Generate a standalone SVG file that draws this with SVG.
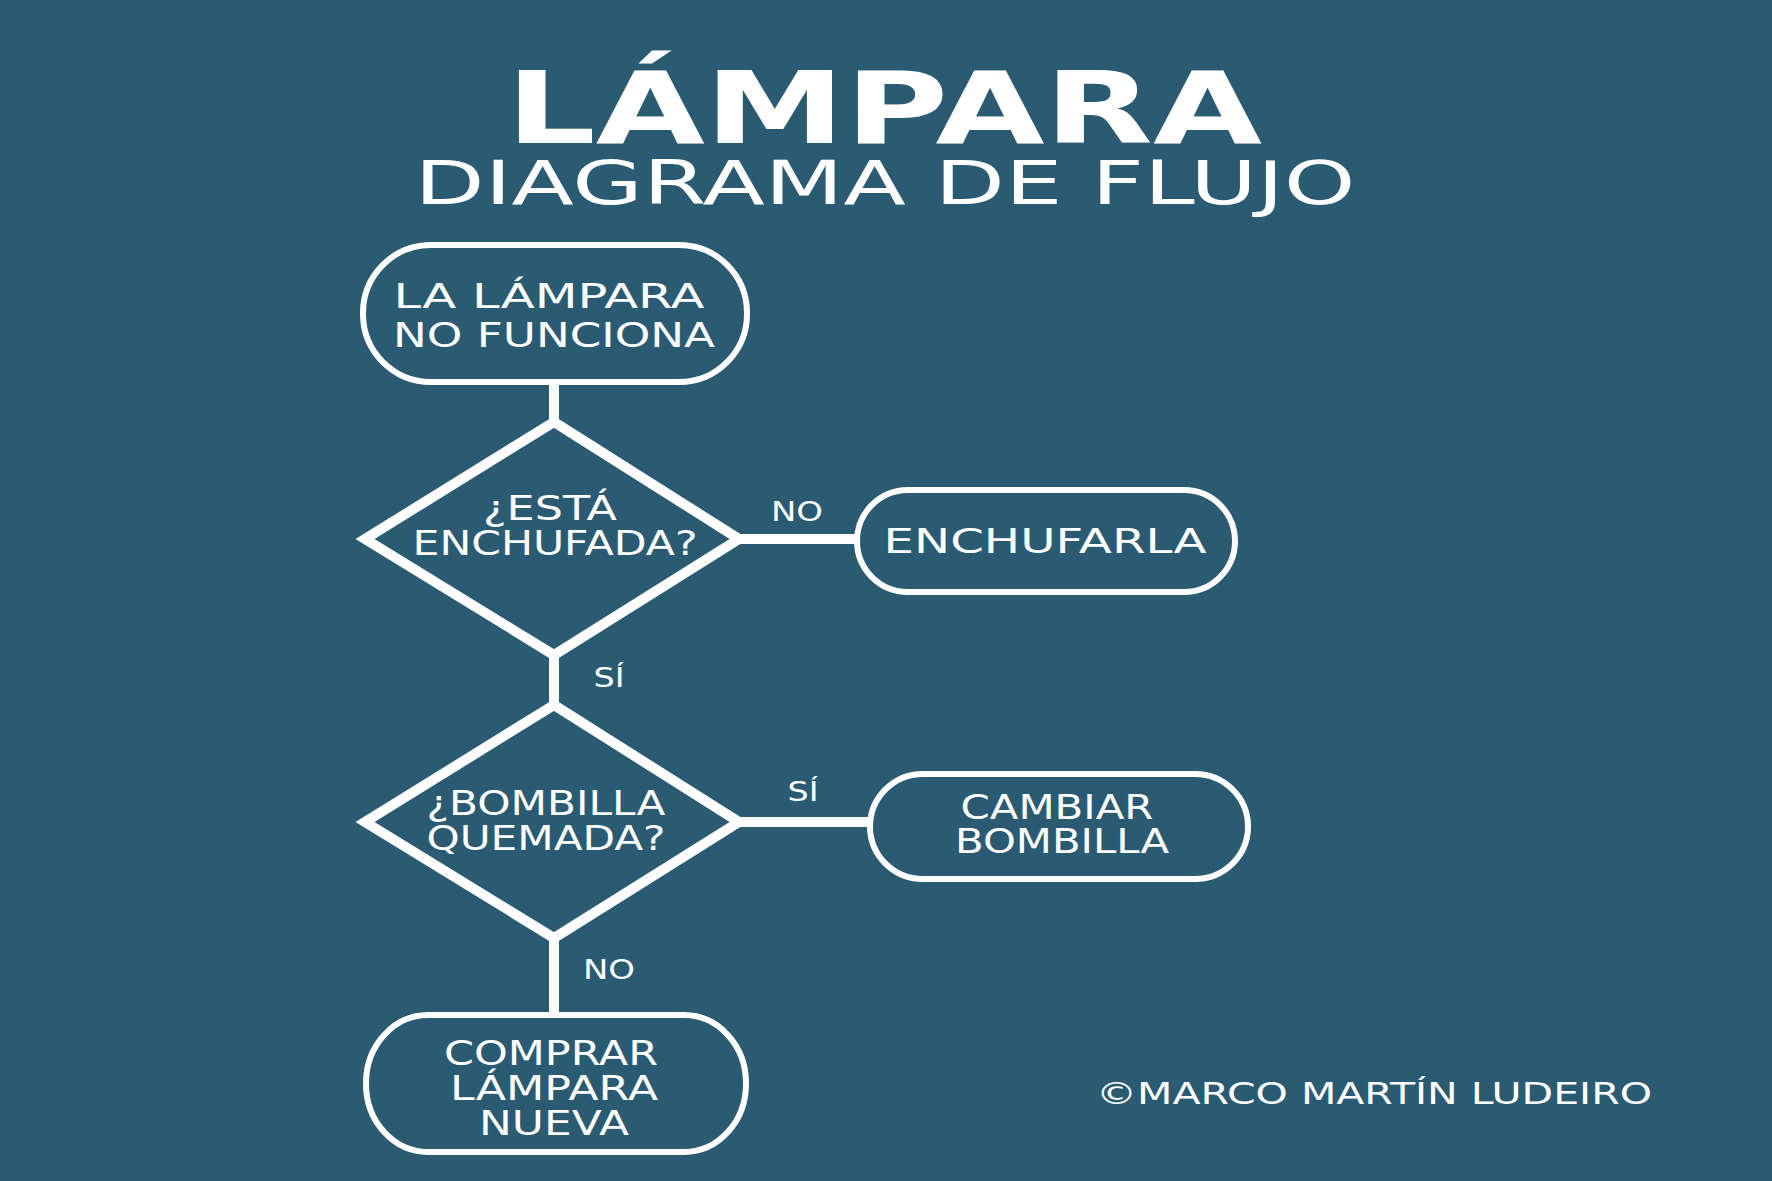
<svg xmlns="http://www.w3.org/2000/svg" width="1772" height="1181" viewBox="0 0 1772 1181">
<style>
text{font-family:"DejaVu Sans","Liberation Sans",sans-serif;fill:#fff;text-anchor:middle}
.node{fill:none;stroke:#fff;stroke-width:6}
.dia{fill:none;stroke:#fff;stroke-width:10;stroke-linejoin:miter}
.conn{stroke:#fff;stroke-width:10;fill:none}
.t{font-size:33px}
.lbl{font-size:27px}
</style>
<rect width="1772" height="1181" fill="#2A5B73"/>
<g id="title">
<text x="884" y="143" font-size="100" font-weight="bold" textLength="756" lengthAdjust="spacingAndGlyphs">LÁMPARA</text>
<text x="885" y="204" font-size="60" textLength="941" lengthAdjust="spacingAndGlyphs">DIAGRAMA DE FLUJO</text>
</g>
<g id="connectors">
<line class="conn" x1="554" y1="382" x2="554" y2="422"/>
<line class="conn" x1="741" y1="539" x2="858" y2="539"/>
<line class="conn" x1="554" y1="653" x2="554" y2="705"/>
<line class="conn" x1="741" y1="822" x2="870" y2="822"/>
<line class="conn" x1="554" y1="936" x2="554" y2="1016"/>
<text class="lbl" x="797" y="521" textLength="52" lengthAdjust="spacingAndGlyphs">NO</text>
<text class="lbl" x="609" y="687" textLength="31" lengthAdjust="spacingAndGlyphs">SÍ</text>
<text class="lbl" x="803" y="801" textLength="31" lengthAdjust="spacingAndGlyphs">SÍ</text>
<text class="lbl" x="609" y="979" textLength="52" lengthAdjust="spacingAndGlyphs">NO</text>
</g>
<g id="start">
<rect class="node" x="363" y="245" width="384" height="137" rx="68" ry="68"/>
<text class="t" x="549" y="308" textLength="311" lengthAdjust="spacingAndGlyphs">LA LÁMPARA</text>
<text class="t" x="554" y="347" textLength="322" lengthAdjust="spacingAndGlyphs">NO FUNCIONA</text>
</g>
<g id="decision1">
<polygon class="dia" points="554,422 365,539 554,655 739,539"/>
<text class="t" x="550" y="520" textLength="134" lengthAdjust="spacingAndGlyphs">¿ESTÁ</text>
<text class="t" x="555" y="555" textLength="285" lengthAdjust="spacingAndGlyphs">ENCHUFADA?</text>
</g>
<g id="enchufarla">
<rect class="node" x="857" y="490" width="378" height="102" rx="51" ry="51"/>
<text class="t" x="1045" y="553" textLength="323" lengthAdjust="spacingAndGlyphs">ENCHUFARLA</text>
</g>
<g id="decision2">
<polygon class="dia" points="554,705 365,822 554,938 739,822"/>
<text class="t" x="546" y="815" textLength="239" lengthAdjust="spacingAndGlyphs">¿BOMBILLA</text>
<text class="t" x="546" y="850" textLength="239" lengthAdjust="spacingAndGlyphs">QUEMADA?</text>
</g>
<g id="cambiar">
<rect class="node" x="870" y="774" width="378" height="105" rx="53" ry="53"/>
<text class="t" x="1057" y="819" textLength="193" lengthAdjust="spacingAndGlyphs">CAMBIAR</text>
<text class="t" x="1062" y="853" textLength="214" lengthAdjust="spacingAndGlyphs">BOMBILLA</text>
</g>
<g id="comprar">
<rect class="node" x="366" y="1015" width="380" height="137" rx="62" ry="68"/>
<text class="t" x="551" y="1065" textLength="214" lengthAdjust="spacingAndGlyphs">COMPRAR</text>
<text class="t" x="554" y="1100" textLength="208" lengthAdjust="spacingAndGlyphs">LÁMPARA</text>
<text class="t" x="554" y="1135" textLength="150" lengthAdjust="spacingAndGlyphs">NUEVA</text>
</g>
<g id="credit">
<text x="1374" y="1104" font-size="31" textLength="556" lengthAdjust="spacingAndGlyphs">©MARCO MARTÍN LUDEIRO</text>
</g>
</svg>
